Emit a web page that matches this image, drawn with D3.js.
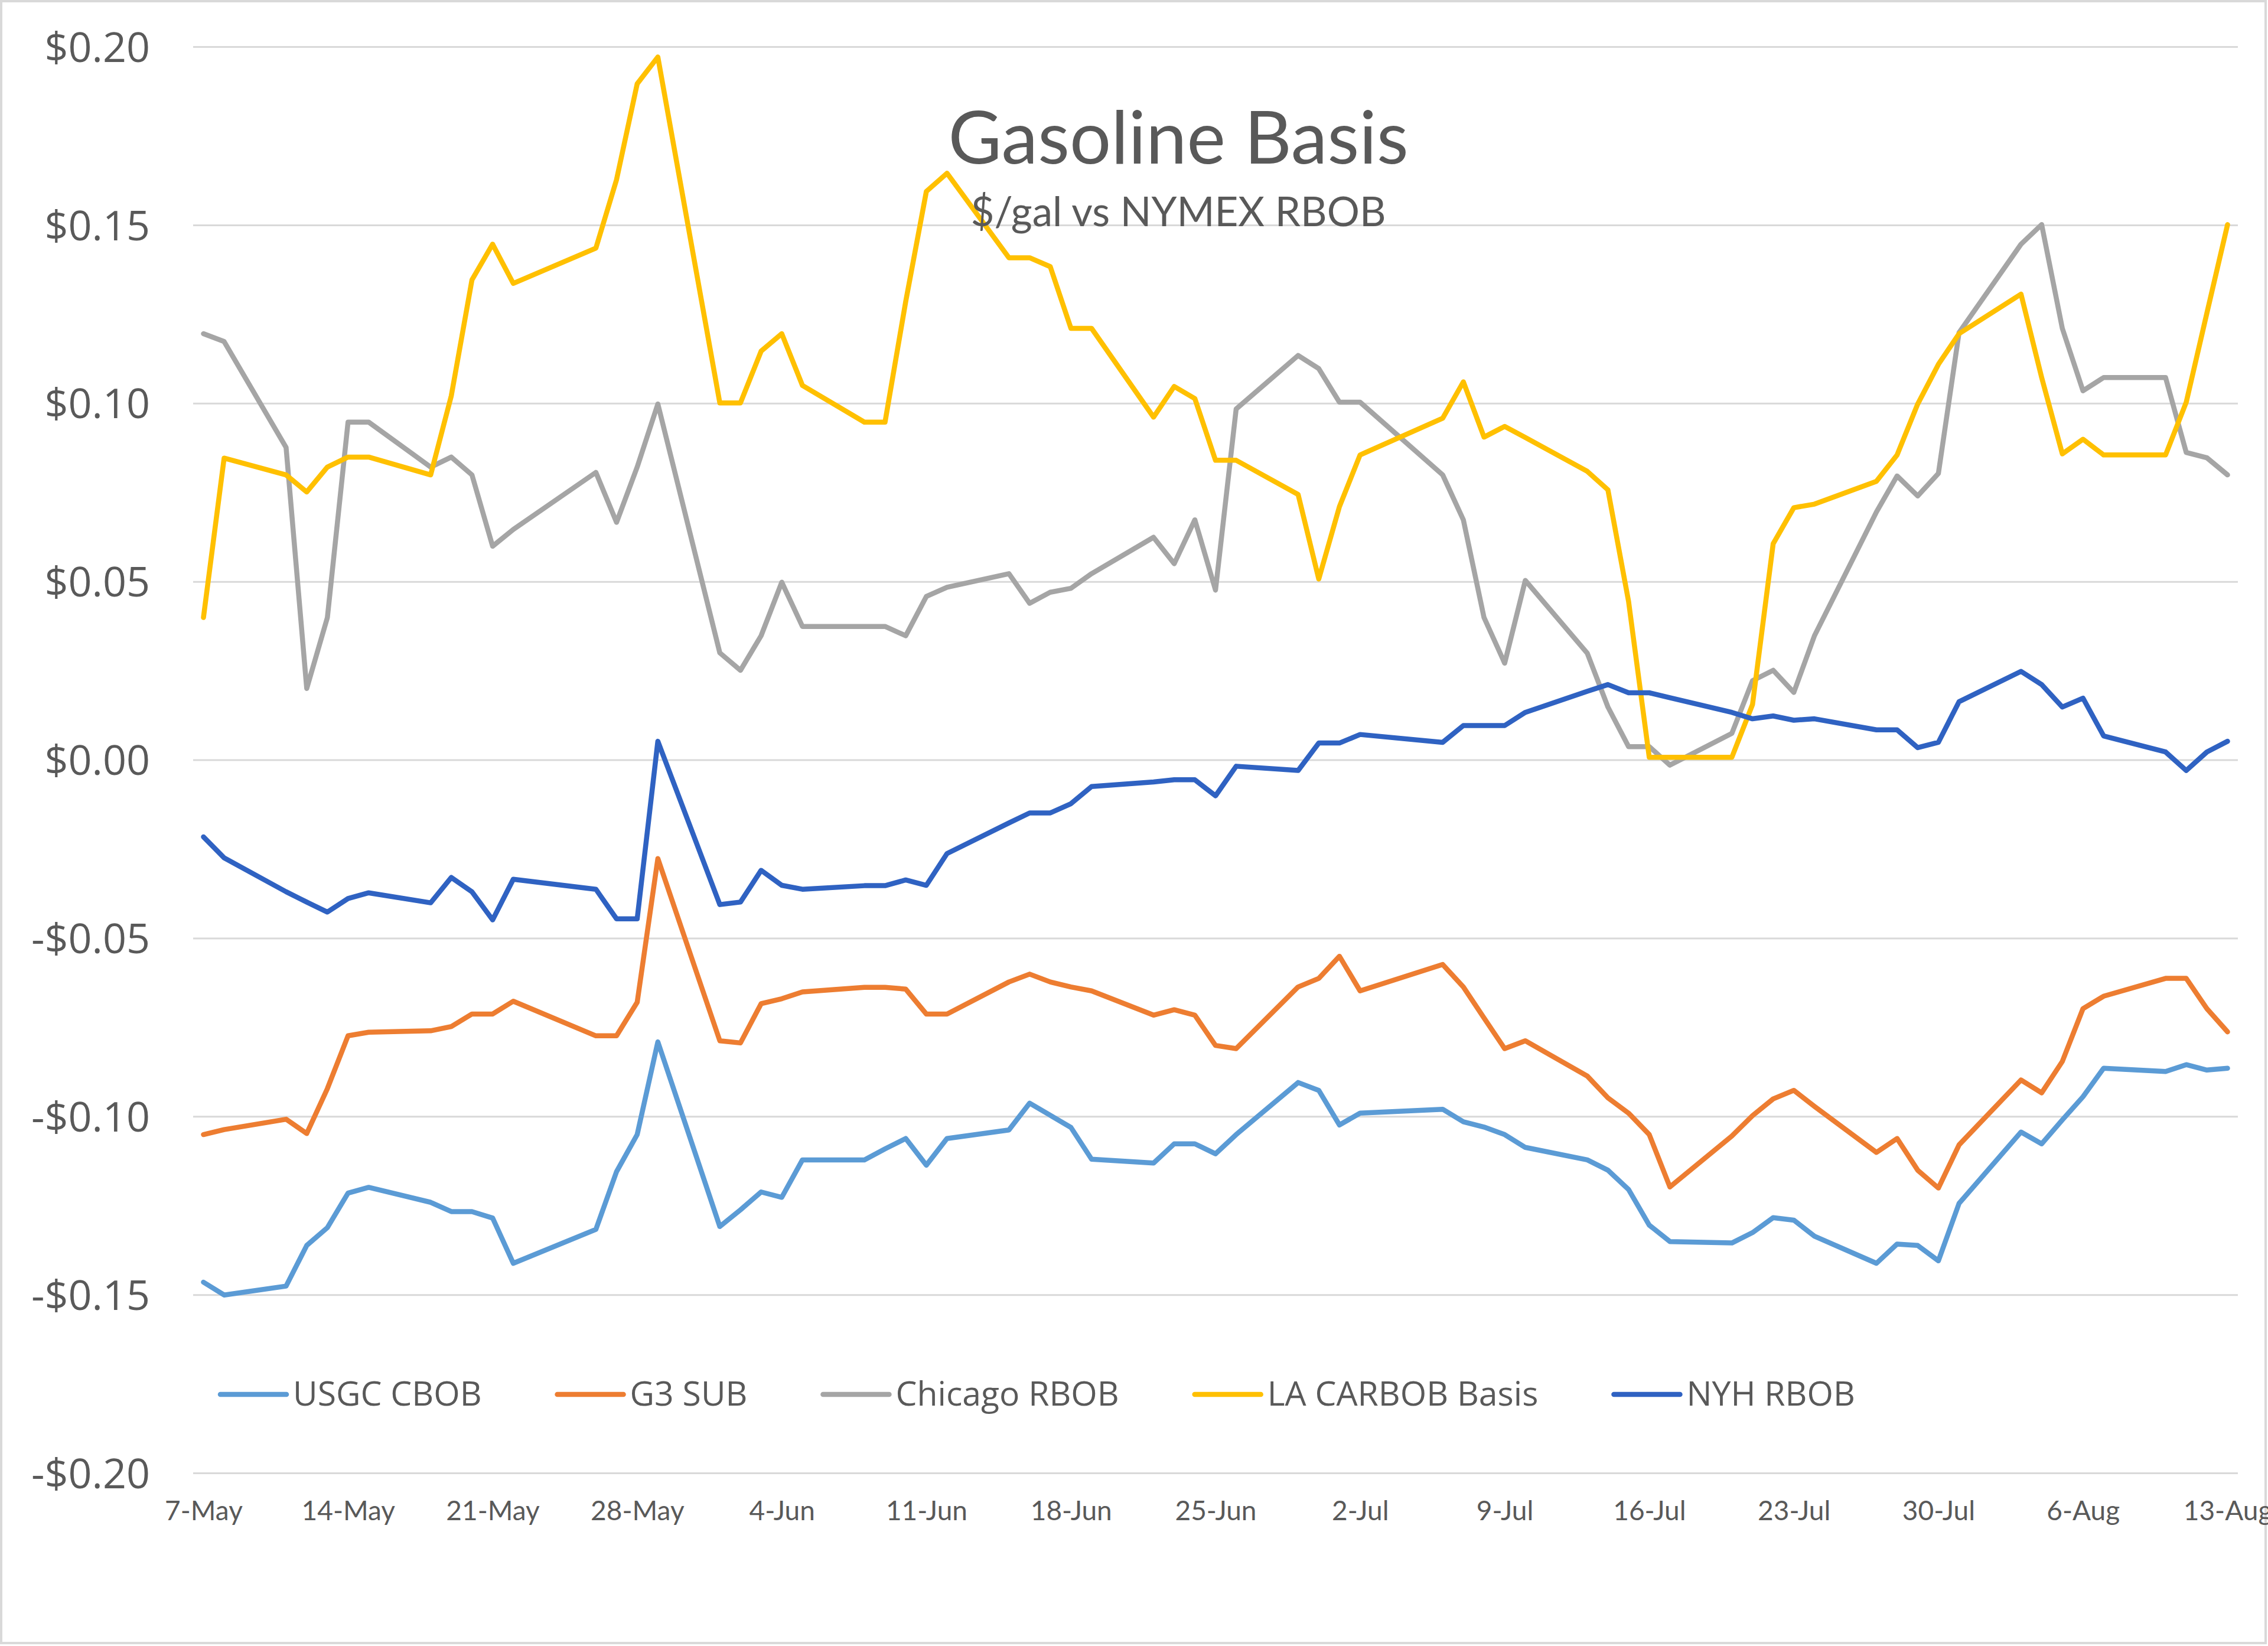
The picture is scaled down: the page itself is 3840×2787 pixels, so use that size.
<!DOCTYPE html>
<html>
<head>
<meta charset="utf-8">
<script src="https://cdn.jsdelivr.net/npm/d3@7"></script>
<style>
  html, body { margin: 0; padding: 0; background: #ffffff; }
  svg { display: block; }
</style>
</head>
<body>
<svg id="chart" width="3840" height="2787"></svg>
<script>
// ---------------- DATA ----------------
const dates = [
  "2020-05-07","2020-05-08",
  "2020-05-11","2020-05-12","2020-05-13","2020-05-14","2020-05-15",
  "2020-05-18","2020-05-19","2020-05-20","2020-05-21","2020-05-22",
  "2020-05-26","2020-05-27","2020-05-28","2020-05-29",
  "2020-06-01","2020-06-02","2020-06-03","2020-06-04","2020-06-05",
  "2020-06-08","2020-06-09","2020-06-10","2020-06-11","2020-06-12",
  "2020-06-15","2020-06-16","2020-06-17","2020-06-18","2020-06-19",
  "2020-06-22","2020-06-23","2020-06-24","2020-06-25","2020-06-26",
  "2020-06-29","2020-06-30","2020-07-01","2020-07-02",
  "2020-07-06","2020-07-07","2020-07-08","2020-07-09","2020-07-10",
  "2020-07-13","2020-07-14","2020-07-15","2020-07-16","2020-07-17",
  "2020-07-20","2020-07-21","2020-07-22","2020-07-23","2020-07-24",
  "2020-07-27","2020-07-28","2020-07-29","2020-07-30","2020-07-31",
  "2020-08-03","2020-08-04","2020-08-05","2020-08-06","2020-08-07",
  "2020-08-10","2020-08-11","2020-08-12","2020-08-13"
];

const usgcCBOB = [
  -0.1465,-0.1501,
  -0.1476,-0.1362,-0.1312,-0.1215,-0.1199,
  -0.1241,-0.1267,-0.1267,-0.1285,-0.1412,
  -0.1317,-0.1155,-0.1051,-0.0791,
  -0.1309,-0.1262,-0.1212,-0.1227,-0.1122,
  -0.1122,-0.1091,-0.1062,-0.1137,-0.1062,
  -0.1038,-0.0963,-0.0997,-0.1031,-0.1120,
  -0.1131,-0.1077,-0.1077,-0.1105,-0.1051,
  -0.0905,-0.0927,-0.1024,-0.0991,
  -0.0980,-0.1015,-0.1030,-0.1051,-0.1087,
  -0.1122,-0.1151,-0.1205,-0.1305,-0.1351,
  -0.1355,-0.1326,-0.1284,-0.1291,-0.1336,
  -0.1412,-0.1358,-0.1362,-0.1405,-0.1244,
  -0.1044,-0.1077,-0.1010,-0.0945,-0.0865,
  -0.0874,-0.0855,-0.0870,-0.0865
];

const g3SUB = [
  -0.1051,-0.1037,
  -0.1008,-0.1048,-0.0922,-0.0774,-0.0764,
  -0.0760,-0.0748,-0.0713,-0.0713,-0.0677,
  -0.0774,-0.0774,-0.0680,-0.0277,
  -0.0788,-0.0794,-0.0684,-0.0670,-0.0651,
  -0.0638,-0.0638,-0.0643,-0.0713,-0.0713,
  -0.0623,-0.0601,-0.0623,-0.0637,-0.0648,
  -0.0716,-0.0701,-0.0716,-0.0801,-0.0810,
  -0.0637,-0.0613,-0.0551,-0.0648,
  -0.0574,-0.0637,-0.0724,-0.0810,-0.0788,
  -0.0887,-0.0948,-0.0991,-0.1051,-0.1198,
  -0.1055,-0.0998,-0.0951,-0.0927,-0.0972,
  -0.1101,-0.1062,-0.1151,-0.1201,-0.1080,
  -0.0898,-0.0934,-0.0846,-0.0698,-0.0663,
  -0.0613,-0.0613,-0.0698,-0.0763
];

const chicagoRBOB = [
  0.1195,0.1173,
  0.0876,0.0200,0.0399,0.0947,0.0947,
  0.0821,0.0849,0.0799,0.0599,0.0646,
  0.0806,0.0666,0.0821,0.0998,
  0.0300,0.0251,0.0348,0.0498,0.0374,
  0.0374,0.0374,0.0348,0.0458,0.0484,
  0.0522,0.0439,0.0470,0.0481,0.0522,
  0.0624,0.0550,0.0673,0.0476,0.0984,
  0.1134,0.1097,0.1003,0.1003,
  0.0799,0.0673,0.0399,0.0271,0.0503,
  0.0299,0.0148,0.0037,0.0037,-0.0015,
  0.0074,0.0222,0.0251,0.0189,0.0348,
  0.0695,0.0796,0.0740,0.0803,0.1198,
  0.1446,0.1501,0.1210,0.1035,0.1072,
  0.1072,0.0862,0.0847,0.0799
];

const laCARBOB = [
  0.0399,0.0846,
  0.0799,0.0751,0.0821,0.0849,0.0849,
  0.0799,0.1021,0.1346,0.1446,0.1336,
  0.1435,0.1627,0.1896,0.1971,
  0.1001,0.1001,0.1146,0.1195,0.1050,
  0.0947,0.0947,0.1285,0.1594,0.1645,
  0.1408,0.1408,0.1383,0.1210,0.1210,
  0.0961,0.1047,0.1013,0.0840,0.0840,
  0.0744,0.0507,0.0710,0.0855,
  0.0958,0.1060,0.0905,0.0935,0.0904,
  0.0809,0.0757,0.0444,0.0007,0.0007,
  0.0007,0.0155,0.0606,0.0707,0.0717,
  0.0781,0.0855,0.0998,0.1109,0.1195,
  0.1306,0.1072,0.0858,0.0899,0.0855,
  0.0855,0.1003,0.1253,0.1501
];

const nyhRBOB = [
  -0.0216,-0.0275,
  -0.0370,-0.0399,-0.0427,-0.0389,-0.0373,
  -0.0401,-0.0330,-0.0370,-0.0449,-0.0335,
  -0.0363,-0.0446,-0.0446,0.0052,
  -0.0406,-0.0399,-0.0310,-0.0352,-0.0363,
  -0.0353,-0.0353,-0.0337,-0.0352,-0.0263,
  -0.0177,-0.0149,-0.0149,-0.0123,-0.0075,
  -0.0062,-0.0056,-0.0056,-0.0101,-0.0018,
  -0.0030,0.0047,0.0047,0.0071,
  0.0049,0.0096,0.0096,0.0096,0.0133,
  0.0192,0.0211,0.0188,0.0188,0.0174,
  0.0133,0.0115,0.0123,0.0111,0.0115,
  0.0084,0.0084,0.0034,0.0049,0.0163,
  0.0248,0.0211,0.0148,0.0173,0.0067,
  0.0022,-0.0030,0.0022,0.0052
];

const seriesNames = ["USGC CBOB", "G3 SUB", "Chicago RBOB", "LA CARBOB Basis", "NYH RBOB"];
const seriesColors = ["#5B9BD5", "#ED7D31", "#A5A5A5", "#FFC000", "#2F62C2"];
const seriesValues = [usgcCBOB, g3SUB, chicagoRBOB, laCARBOB, nyhRBOB];

const yTicks = [-0.20, -0.15, -0.10, -0.05, 0.00, 0.05, 0.10, 0.15, 0.20];
const xTickDates = ["2020-05-07","2020-05-14","2020-05-21","2020-05-28","2020-06-04",
  "2020-06-11","2020-06-18","2020-06-25","2020-07-02","2020-07-09","2020-07-16",
  "2020-07-23","2020-07-30","2020-08-06","2020-08-13"];

const titleText = "Gasoline Basis";
const subtitleText = "$/gal vs NYMEX RBOB";

// ---------------- LAYOUT ----------------
const W = 3840, H = 2787;
const plot = { left: 327, right: 3789, top: 79, bottom: 2494 };
const textColor = "#595959";
const gridColor = "#D9D9D9";
const lineWidth = 8.5;

const parse = d3.utcParse("%Y-%m-%d");
const halfDay = 12 * 3600 * 1000;
const dParsed = dates.map(parse);
const firstDay = parse("2020-05-07"), lastDay = parse("2020-08-13");

const x = d3.scaleUtc()
  .domain([new Date(+firstDay - halfDay), new Date(+lastDay + halfDay)])
  .range([plot.left, plot.right]);
const y = d3.scaleLinear().domain([-0.2, 0.2]).range([plot.bottom, plot.top]);

const svg = d3.select("#chart");
svg.append("rect").attr("x", 0).attr("y", 0).attr("width", W).attr("height", H).attr("fill", "#fff");
svg.append("rect").attr("x", 2).attr("y", 2).attr("width", W - 6).attr("height", H - 7)
  .attr("fill", "none").attr("stroke", "#D9D9D9").attr("stroke-width", 4);

// Y axis with gridlines
const fmtY = v => {
  const a = Math.abs(v).toFixed(2);
  return (v < -1e-9 ? "-$" : "$") + a;
};
const yAxis = svg.append("g")
  .attr("transform", `translate(${plot.left},0)`)
  .call(d3.axisLeft(y).tickValues(yTicks).tickFormat(fmtY)
    .tickSize(-(plot.right - plot.left)).tickPadding(73));
yAxis.select(".domain").remove();
yAxis.selectAll(".tick line").attr("stroke", gridColor).attr("stroke-width", 3);
yAxis.selectAll(".tick text")
  .attr("fill", textColor)
  .style("font-family", "'Open Sans', sans-serif")
  .style("font-size", "70px")
  .attr("dy", "0.36em");

// X axis labels
const xAxis = svg.append("g")
  .attr("transform", `translate(0,${plot.bottom})`)
  .call(d3.axisBottom(x).tickValues(xTickDates.map(parse))
    .tickFormat(d3.utcFormat("%-d-%b")).tickSize(0).tickPadding(0));
xAxis.select(".domain").remove();
xAxis.selectAll(".tick text")
  .attr("fill", textColor)
  .attr("dy", null)
  .attr("y", 80)
  .style("font-family", "Lato, sans-serif")
  .style("font-size", "46px");

// Lines
const line = d3.line()
  .x((d, i) => x(dParsed[i]))
  .y(d => y(d));
const linesG = svg.append("g");
seriesValues.forEach((vals, k) => {
  linesG.append("path")
    .datum(vals)
    .attr("d", line)
    .attr("fill", "none")
    .attr("stroke", seriesColors[k])
    .attr("stroke-width", lineWidth)
    .attr("stroke-linejoin", "round")
    .attr("stroke-linecap", "round");
});

// Title & subtitle
svg.append("text")
  .attr("x", 1995).attr("y", 277)
  .attr("text-anchor", "middle")
  .attr("fill", textColor)
  .style("font-family", "Lato, sans-serif")
  .style("font-size", "124px")
  .text(titleText);
svg.append("text")
  .attr("x", 1995).attr("y", 383)
  .attr("text-anchor", "middle")
  .attr("fill", textColor)
  .style("font-family", "Lato, sans-serif")
  .style("font-size", "69px")
  .text(subtitleText);

// Legend
const legendG = svg.append("g");
const legY = 2361;
const targetTextTotal = 1641;
const probe = legendG.append("g");
const baseSize = 100;
let total = 0;
seriesNames.forEach(n => {
  const t = probe.append("text").style("font-family", "'Open Sans', sans-serif")
    .style("font-size", baseSize + "px").text(n);
  total += t.node().getComputedTextLength();
});
probe.remove();
const legSize = baseSize * targetTextTotal / total;
let cx = 373;
seriesNames.forEach((n, k) => {
  legendG.append("line")
    .attr("x1", cx).attr("x2", cx + 112)
    .attr("y1", legY).attr("y2", legY)
    .attr("stroke", seriesColors[k]).attr("stroke-width", lineWidth)
    .attr("stroke-linecap", "round");
  const t = legendG.append("text")
    .attr("x", cx + 123).attr("y", 2380)
    .attr("fill", textColor)
    .style("font-family", "'Open Sans', sans-serif")
    .style("font-size", legSize + "px")
    .text(n);
  cx = cx + 123 + t.node().getComputedTextLength() + 128;
});
</script>
</body>
</html>
